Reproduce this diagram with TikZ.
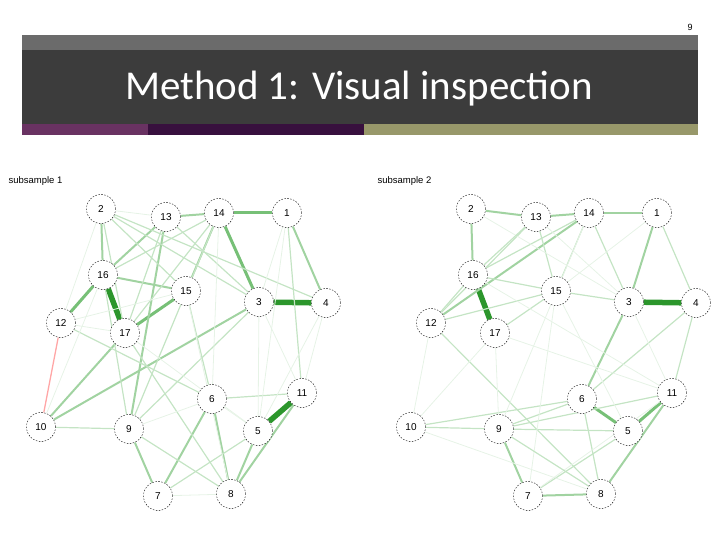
\documentclass[tikz,border=0pt]{standalone}
\usepackage{fontspec}
\setmainfont{Liberation Sans}
\newfontfamily\titlefont{Carlito}
\pgfdeclarelayer{bg}\pgfsetlayers{bg,main}
\definecolor{eg}{HTML}{2E9E2E}
\tikzset{
 nd/.style={circle,draw=black,dashed,dash pattern=on 1.5pt off 1.5pt,fill=white,minimum size=29pt,inner sep=0pt,font=\fontsize{10}{10}\selectfont},
 ea/.style={draw=eg!12,line width=0.8pt},
 eb/.style={draw=eg!28,line width=1.2pt},
 ec/.style={draw=eg!45,line width=2pt},
 ed/.style={draw=eg!65,line width=3pt},
 ee/.style={draw=eg!95!black,line width=5.5pt},
 ep/.style={draw=red!35,line width=1.3pt},
}
\begin{document}
\begin{tikzpicture}[x=1pt,y=-1pt]
\useasboundingbox (0,0) rectangle (720,540);
\node (pg) at (690,27) {\fontsize{9}{9}\selectfont 9};
\fill[fill={rgb,255:red,107;green,107;blue,107}] (22,35) rectangle (698,50);
\fill[fill={rgb,255:red,60;green,60;blue,60}] (22,50) rectangle (698,124);
\fill[fill={rgb,255:red,105;green,50;blue,98}] (22,124) rectangle (148,135);
\fill[fill={rgb,255:red,56;green,16;blue,62}] (148,124) rectangle (364,135);
\fill[fill={rgb,255:red,152;green,152;blue,106}] (364,124) rectangle (698,135);
\node[text=white,font=\titlefont\fontsize{41}{41}\selectfont] (title) at (359,89) {Method 1: Visual inspection};
\node[anchor=west,font=\fontsize{9.5}{9.5}\selectfont] (s1) at (5,181) {subsample 1};
\node[anchor=west,font=\fontsize{9.5}{9.5}\selectfont] (s2) at (374,181) {subsample 2};
% nodes
\foreach \p/\dx in {a/0,b/370}{
 \foreach \n/\x/\y in {2/101/209,13/166/217,14/219/213,1/287/213,16/103/275,15/186/291,3/259/302,4/326/303,12/61/323,17/125/333,6/212/399,11/302/393,10/41/427,9/129/429,5/258/431,7/158/496,8/231/494}{
  \node[nd] (\p\n) at (\x+\dx,\y) {\n};
 }
}
\begin{pgfonlayer}{bg}
\foreach \u/\v/\s in {
 14/1/ed,13/14/ec,14/3/ed,1/4/ec,3/4/ee,16/17/ee,15/17/ed,16/12/ed,16/15/ec,2/16/ec,2/17/eb,13/16/ec,14/16/eb,13/17/eb,13/9/ec,14/15/ec,14/17/eb,12/10/ep,10/17/ec,10/3/ec,10/9/eb,9/7/ec,6/7/ec,6/8/ec,5/8/ec,11/8/ec,5/11/ee,6/11/eb,1/11/eb,9/3/eb,5/7/eb,2/3/eb,2/4/eb,12/6/eb,16/9/eb,15/6/eb,9/8/eb,7/8/ea,3/5/ea,1/3/ea,12/17/ea,12/2/ea,2/13/ea,13/3/eb,14/9/eb,17/8/eb,2/15/eb,3/11/ea,4/11/ea,1/5/ea,17/5/ea,12/15/ea,6/5/ea,10/16/ea,15/8/ea,9/6/ea,14/6/ea,4/5/ea}{
 \draw[\s] (a\u) -- (a\v);
}
\foreach \u/\v/\s in {
 3/4/ee,16/17/ee,6/5/ed,5/11/ed,2/13/ec,13/14/ec,14/1/ec,2/16/ec,13/12/eb,14/12/ec,14/16/eb,14/15/eb,13/15/eb,1/3/ec,3/6/ec,1/4/eb,4/11/eb,11/8/ec,9/7/ec,7/8/ec,6/8/eb,16/15/eb,15/17/eb,12/15/eb,15/3/eb,10/6/eb,10/9/eb,9/5/eb,12/8/eb,4/6/eb,11/9/eb,7/5/eb,6/9/eb,14/3/eb,2/3/ea,17/9/ea,15/7/ea,11/7/ea,13/16/eb,12/16/eb,10/12/ea,10/8/ea,17/11/ea,3/11/ea,16/11/ea,9/8/eb,15/5/ea,14/9/ea,13/3/ea,10/17/ea,1/15/ea}{
 \draw[\s] (b\u) -- (b\v);
}
\end{pgfonlayer}
\end{tikzpicture}
\end{document}
